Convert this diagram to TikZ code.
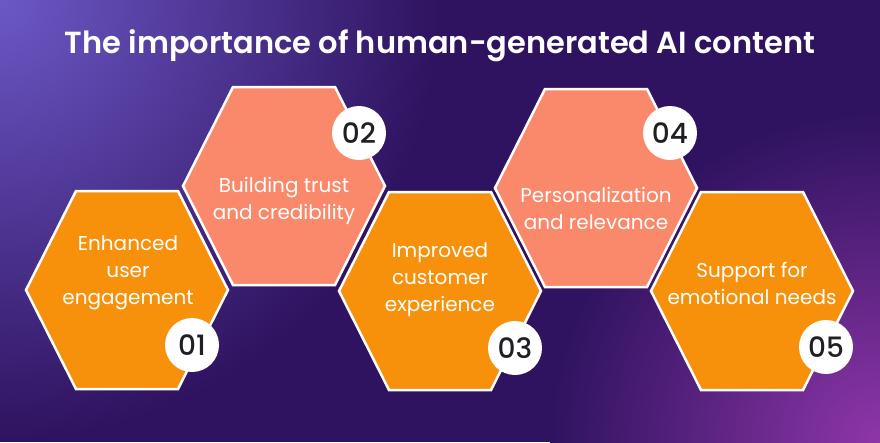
\documentclass[tikz,border=0pt]{standalone}
\usepackage{fontspec}
\setmainfont{Poppins}
\newfontfamily\numfont{Poppins Medium}
\newfontfamily\titlefont{Poppins SemiBold}
\usepackage{xcolor}
\usetikzlibrary{positioning}

\definecolor{bgdark}{HTML}{2F1360}
\definecolor{bgviolet}{HTML}{6C58C6}
\definecolor{bgmagenta}{HTML}{8E36A8}
\definecolor{hexorange}{HTML}{F7900B}
\definecolor{hexsalmon}{HTML}{F9896A}
\definecolor{numdark}{HTML}{1F1F24}

\tikzset{
  hexcell/.style={draw=white, line width=2.5pt, line join=miter},
  hexlabel/.style={text=white, align=center, font=\fontsize{20}{27}\selectfont},
  numbadge/.style={circle, fill=white, minimum size=54pt, inner sep=0pt, text=numdark, font=\numfont\fontsize{28}{28}\selectfont}
}

\begin{document}
\begin{tikzpicture}[x=1pt, y=-1pt]
% background
\fill[bgdark] (0,0) rectangle (880,442);
\begin{scope}
\clip (0,0) rectangle (880,442);
\shade[inner color=bgviolet, outer color=bgdark] (0,0) circle (440);
\shade[inner color=bgmagenta, outer color=bgdark] (880,442) circle (330);
\end{scope}
\useasboundingbox (0,0) rectangle (880,442);

\node[text=white, font=\titlefont\fontsize{30.5}{36}\selectfont] (title) at (440,46) {The importance of human-generated AI content};

% hexagons: centre x / centre y / fill / number / badge x / badge y
\foreach \cx/\cy/\col/\num/\bx/\by in {127/290/hexorange/01/192/345, 284/186/hexsalmon/02/359/133, 440/291/hexorange/03/515/348, 596/188/hexsalmon/04/670/133, 752/291/hexorange/05/826/347}{
  \fill[\col, hexcell] (\cx-101,\cy) -- (\cx-51,\cy-99) -- (\cx+51,\cy-99) -- (\cx+101,\cy) -- (\cx+51,\cy+99) -- (\cx-51,\cy+99) -- cycle;
  \node[numbadge] (badge\num) at (\bx,\by) {\num};
}

\node[hexlabel] (engage) at (128,273) {Enhanced\\user\\engagement};
\node[hexlabel] (trust) at (284,201) {Building trust\\and credibility};
\node[hexlabel] (custexp) at (440,280) {Improved\\customer\\experience};
\node[hexlabel] (personal) at (596,208) {Personalization\\and relevance};
\node[hexlabel] (emotion) at (752,283) {Support for\\emotional needs};
\end{tikzpicture}
\end{document}
